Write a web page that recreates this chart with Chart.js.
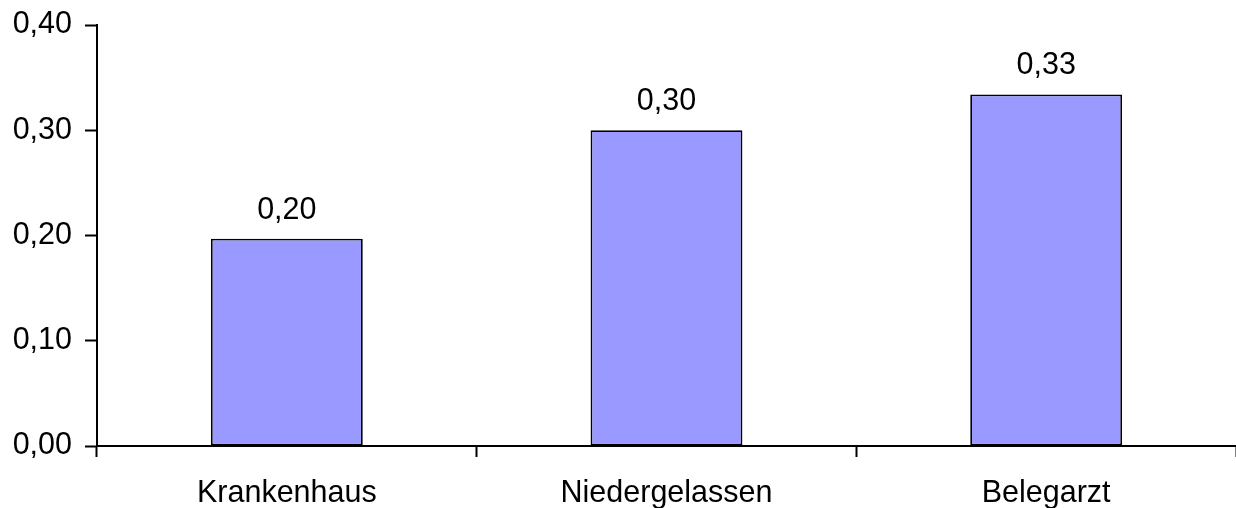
<!DOCTYPE html>
<html>
<head>
<meta charset="utf-8">
<script src="https://cdn.jsdelivr.net/npm/chart.js@4/dist/chart.umd.min.js"></script>
<style>
  html, body { margin: 0; padding: 0; background: #ffffff; }
  #wrap { width: 1236px; height: 508px; }
</style>
</head>
<body>
<div id="wrap"><canvas id="c" width="1236" height="508"></canvas></div>
<script>
const categories = ["Krankenhaus", "Niedergelassen", "Belegarzt"];
const values = [0.197, 0.300, 0.334];
const yTicks = [0.00, 0.10, 0.20, 0.30, 0.40];

const fmt = v => v.toFixed(2).replace('.', ',');
const FONT = "'Liberation Sans', Arial, sans-serif";
const FSIZE = 30.5;

const valueLabels = {
  id: 'valueLabels',
  afterDatasetsDraw(chart) {
    const ctx = chart.ctx;
    const meta = chart.getDatasetMeta(0);
    ctx.save();
    ctx.font = FSIZE + "px " + FONT;
    ctx.fillStyle = '#000';
    ctx.textAlign = 'center';
    ctx.textBaseline = 'alphabetic';
    meta.data.forEach((bar, i) => {
      ctx.fillText(fmt(values[i]), bar.x, bar.y - 20);
    });
    ctx.restore();
  }
};

new Chart(document.getElementById('c'), {
  type: 'bar',
  data: {
    labels: categories,
    datasets: [{
      data: values,
      backgroundColor: '#9999FF',
      borderColor: '#000000',
      borderWidth: 1.8,
      borderSkipped: false,
      barPercentage: 0.4,
      categoryPercentage: 1.0
    }]
  },
  options: {
    responsive: false,
    animation: false,
    devicePixelRatio: 1,
    layout: { padding: { left: 12, top: 25, right: 0, bottom: 0 } },
    plugins: { legend: { display: false }, tooltip: { enabled: false } },
    scales: {
      x: {
        offset: true,
        afterFit(scale) { scale.height = 62; },
        grid: {
          offset: true,
          drawOnChartArea: false,
          drawTicks: true,
          tickLength: 11,
          tickWidth: 2,
          tickColor: '#000'
        },
        border: { display: true, color: '#000', width: 2 },
        ticks: {
          color: '#000',
          font: { family: FONT, size: FSIZE },
          padding: 18,
          maxRotation: 0
        }
      },
      y: {
        min: 0,
        max: 0.4,
        afterFit(scale) { scale.width = 85; scale.paddingTop = 0; scale.paddingBottom = 0; },
        afterBuildTicks(axis) { axis.ticks = yTicks.map(v => ({ value: v })); },
        grid: {
          drawOnChartArea: false,
          drawTicks: true,
          tickLength: 12,
          tickWidth: 2,
          tickColor: '#000'
        },
        border: { display: true, color: '#000', width: 2 },
        ticks: {
          color: '#000',
          font: { family: FONT, size: FSIZE },
          padding: 13,
          callback: v => fmt(v)
        }
      }
    }
  },
  plugins: [valueLabels]
});
</script>
</body>
</html>
